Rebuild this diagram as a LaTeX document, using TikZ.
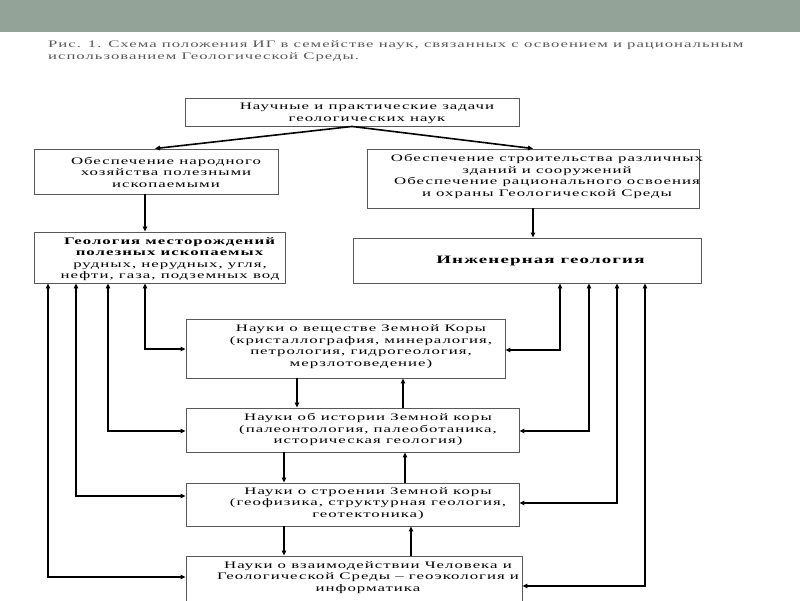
\documentclass[tikz,border=0pt]{standalone}
\usepackage{fontspec}
\setmainfont{Liberation Serif}[FakeStretch=1.68,LetterSpace=10]
\usetikzlibrary{arrows.meta,calc}
\begin{document}
\begin{tikzpicture}[x=1pt,y=-1pt,
  box/.style={draw=black!65, line width=0.9pt, inner sep=0pt},
  txt/.style={align=center, inner sep=0pt, text=black, font=\fontsize{10}{11.5}\selectfont},
  conn/.style={draw=black, line width=1.6pt},
  thk/.style={draw=black, line width=2.3pt},
  tip/.tip={Triangle[length=5pt,width=4.5pt]}]
\useasboundingbox (0,0) rectangle (800,600);
\fill[fill={rgb,255:red,147;green,163;blue,151}] (0,0) rectangle (800,32);
% caption
\node[anchor=west, align=left, inner sep=0pt, text=black!65, font=\fontsize{9.95}{12}\selectfont] (cap) at (48,51)
  {Рис. 1. Схема положения ИГ в семействе наук, связанных с освоением и рациональным\\
   использованием Геологической Среды.};
% boxes
\node[box, minimum width=334pt, minimum height=28pt] (top) at (352,112) {};
\node[box, minimum width=244pt, minimum height=45pt] (l2) at (156,171.5) {};
\node[box, minimum width=332pt, minimum height=59pt] (r2) at (533,178.5) {};
\node[box, minimum width=251pt, minimum height=51pt] (geo) at (159.5,257.5) {};
\node[box, minimum width=348pt, minimum height=45pt] (eng) at (527,260.5) {};
\node[box, minimum width=319pt, minimum height=59pt] (b4) at (345.5,348.5) {};
\node[box, minimum width=333pt, minimum height=44pt] (b5) at (352.5,430) {};
\node[box, minimum width=333pt, minimum height=43pt] (b6) at (352.5,504.5) {};
\node[box, minimum width=336pt, minimum height=54pt] (b7) at (354,583) {};
% texts
\node[txt] (ttop) at (367,113.5) {Научные и практические задачи\\геологических наук};
\node[txt] (tl2) at (166,172) {Обеспечение народного\\хозяйства полезными\\ископаемыми};
\node[txt] (tr2) at (547,176.5) {Обеспечение строительства различных\\зданий и сооружений\\Обеспечение рационального освоения\\и охраны Геологической Среды};
\node[txt] (tgeo) at (170,259) {\textbf{Геология месторождений}\\\textbf{полезных ископаемых}\\рудных, нерудных, угля,\\нефти, газа, подземных вод};
\node[txt, font=\fontsize{11.3}{11.5}\selectfont] (teng) at (541,261) {\textbf{Инженерная геология}};
\node[txt] (tb4) at (361,346.5) {Науки о веществе Земной Коры\\(кристаллография, минералогия,\\петрология, гидрогеология,\\мерзлотоведение)};
\node[txt] (tb5) at (368,429.5) {Науки об истории Земной коры\\(палеонтология, палеоботаника,\\историческая геология)};
\node[txt] (tb6) at (368,503.5) {Науки о строении Земной коры\\(геофизика, структурная геология,\\геотектоника)};
\node[txt] (tb7) at (368,577.5) {Науки о взаимодействии Человека и\\Геологической Среды -- геоэкология и\\информатика};
% helper coordinates
\coordinate (xa) at (155,0);
\coordinate (xb) at (533,0);
\coordinate (xc) at (145,0);
\coordinate (xL1) at (48,0);
\coordinate (xL2) at (76,0);
\coordinate (xL3) at (108,0);
\coordinate (xL4) at (145,0);
\coordinate (xR1) at (560,0);
\coordinate (xR2) at (589,0);
\coordinate (xR3) at (617,0);
\coordinate (xR4) at (645,0);
\coordinate (yL4) at (0,349);
\coordinate (yL5) at (0,431);
\coordinate (yL6) at (0,496);
\coordinate (yL7) at (0,577);
\coordinate (yR4) at (0,350);
\coordinate (yR5) at (0,431);
\coordinate (yR6) at (0,503);
\coordinate (yR7) at (0,586);
\coordinate (d1) at (297,0);
\coordinate (u1) at (403,0);
\coordinate (d2) at (284,0);
\coordinate (u2) at (405,0);
\coordinate (u3) at (411,0);
% top connectors
\draw[conn,-tip] (top.south) -- (l2.north -| xa);
\draw[conn,-tip] (top.south) -- (r2.north -| xb);
\draw[conn,-tip] (l2.south -| xc) -- (geo.north -| xc);
\draw[conn,-tip] (r2.south -| xb) -- (eng.north -| xb);
% left feedback
\draw[conn,tip-tip] (geo.south -| xL4) |- (b4.west |- yL4);
\draw[conn,tip-tip] (geo.south -| xL3) |- (b5.west |- yL5);
\draw[conn,tip-tip] (geo.south -| xL2) |- (b6.west |- yL6);
\draw[conn,tip-tip] (geo.south -| xL1) |- (b7.west |- yL7);
% right feedback
\draw[conn,tip-tip] (eng.south -| xR1) |- (b4.east |- yR4);
\draw[conn,tip-tip] (eng.south -| xR2) |- (b5.east |- yR5);
\draw[conn,tip-tip] (eng.south -| xR3) |- (b6.east |- yR6);
\draw[conn,tip-tip] (eng.south -| xR4) |- (b7.east |- yR7);
% centre verticals
\draw[conn,-tip] (b4.south -| d1) -- (b5.north -| d1);
\draw[conn,-tip] (b5.north -| u1) -- (b4.south -| u1);
\draw[thk,-tip] (b5.south -| d2) -- (b6.north -| d2);
\draw[conn,-tip] (b6.north -| u2) -- (b5.south -| u2);
\draw[thk,-tip] (b6.south -| d2) -- (b7.north -| d2);
\draw[thk,-tip] (b7.north -| u3) -- (b6.south -| u3);
\end{tikzpicture}
\end{document}
